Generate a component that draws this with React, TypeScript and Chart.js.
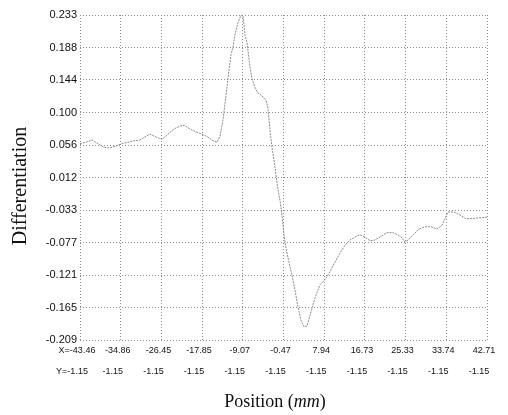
import { useEffect, useRef } from 'react';
import { Chart, registerables } from 'chart.js';

Chart.register(...registerables);

const positions = [
  -43.46, -42.19, -40.92, -39.65, -38.38, -37.11, -35.84, -34.57, -33.3, -32.03,
  -30.76, -29.49, -28.64, -27.37, -26.1, -24.83, -23.56, -22.29, -21.44, -20.17,
  -18.9, -17.63, -16.36, -15.3, -14.46, -13.82, -13.19, -12.55, -11.92, -11.49,
  -11.07, -10.65, -10.01, -9.38, -8.95, -8.53, -8.11, -7.47, -7.05, -6.41,
  -5.78, -4.93, -4.08, -3.66, -3.24, -2.81, -2.18, -1.54, -1.12, -0.7,
  -0.27, 0.15, 0.78, 1.42, 2.06, 2.69, 3.33, 3.96, 4.6, 5.23,
  5.86, 6.5, 7.35, 8.41, 9.47, 10.53, 11.58, 12.64, 13.7, 14.76,
  15.82, 16.87, 17.93, 18.99, 20.26, 21.53, 22.8, 23.86, 24.71, 25.34,
  25.98, 27.04, 28.31, 29.58, 30.85, 32.12, 33.18, 33.81, 34.45, 35.72,
  36.99, 38.26, 39.53, 40.8, 42.71,
];

const differentiation = [
  0.058, 0.06, 0.063, 0.058, 0.053, 0.052, 0.055, 0.058, 0.06, 0.062,
  0.063, 0.068, 0.071, 0.067, 0.064, 0.071, 0.078, 0.082, 0.083, 0.078,
  0.074, 0.071, 0.067, 0.062, 0.06, 0.068, 0.09, 0.124, 0.158, 0.179,
  0.189, 0.206, 0.223, 0.233, 0.232, 0.206, 0.196, 0.162, 0.147, 0.134,
  0.127, 0.123, 0.117, 0.106, 0.077, 0.053, 0.026, -0.005, -0.019, -0.039,
  -0.066, -0.084, -0.103, -0.121, -0.141, -0.164, -0.182, -0.191, -0.19, -0.176,
  -0.161, -0.148, -0.134, -0.127, -0.116, -0.103, -0.091, -0.08, -0.073, -0.069,
  -0.066, -0.069, -0.074, -0.073, -0.068, -0.063, -0.063, -0.066, -0.07, -0.076,
  -0.073, -0.066, -0.058, -0.055, -0.055, -0.058, -0.053, -0.044, -0.035, -0.035,
  -0.039, -0.044, -0.044, -0.043, -0.042,
];

const xTickLabels = ['X=-43.46', '-34.86', '-26.45', '-17.85', '-9.07', '-0.47', '7.94', '16.73', '25.33', '33.74', '42.71'];
const yRowLabels = ['Y=-1.15', '-1.15', '-1.15', '-1.15', '-1.15', '-1.15', '-1.15', '-1.15', '-1.15', '-1.15', '-1.15'];
const yTickLabels = ['-0.209', '-0.165', '-0.121', '-0.077', '-0.033', '0.012', '0.056', '0.100', '0.144', '0.188', '0.233'];

const xMin = -43.46;
const xMax = 42.71;
const yMin = -0.209;
const yMax = 0.233;

const yTitle = 'Differentiation';
const xTitleParts = [
  { text: 'Position (', italic: false },
  { text: 'mm', italic: true },
  { text: ')', italic: false },
];

const titlePlugin = {
  id: 'customTitles',
  afterDraw(chart: any) {
    const ctx = chart.ctx;
    ctx.save();
    ctx.fillStyle = '#111';
    ctx.save();
    ctx.translate(21, 186);
    ctx.rotate(-Math.PI / 2);
    ctx.font = '20px "Liberation Serif", "Times New Roman", serif';
    ctx.textAlign = 'center';
    ctx.textBaseline = 'middle';
    ctx.fillText(yTitle, 0, 0);
    ctx.restore();
    const size = 18;
    const fonts = xTitleParts.map((p) =>
      (p.italic ? 'italic ' : '') + size + 'px "Liberation Serif", "Times New Roman", serif'
    );
    let total = 0;
    const widths = xTitleParts.map((p, i) => {
      ctx.font = fonts[i];
      const w = ctx.measureText(p.text).width;
      total += w;
      return w;
    });
    let x = 275 - total / 2;
    ctx.textAlign = 'left';
    ctx.textBaseline = 'alphabetic';
    xTitleParts.forEach((p, i) => {
      ctx.font = fonts[i];
      ctx.fillText(p.text, x, 407);
      x += widths[i];
    });
    ctx.restore();
  },
};

const evenTicks = (labels: string[], min: number, max: number) => (scale: any) => {
  scale.ticks = labels.map((_, i) => ({ value: min + (i * (max - min)) / (labels.length - 1) }));
};

const tickFont = { size: 9, family: '"Liberation Sans", Arial, sans-serif' };

export default function App() {
  const canvasRef = useRef<HTMLCanvasElement | null>(null);

  useEffect(() => {
    if (!canvasRef.current) return;
    const gridColor = '#8c8c8c';
    const chart = new Chart(canvasRef.current, {
      type: 'line',
      data: {
        datasets: [
          {
            data: positions.map((x, i) => ({ x, y: differentiation[i] })),
            borderColor: '#8a8a8a',
            borderWidth: 1,
            borderDash: [2, 1],
            pointRadius: 0,
            tension: 0,
            fill: false,
            xAxisID: 'x',
            yAxisID: 'y',
          },
        ],
      },
      options: {
        animation: false,
        responsive: false,
        maintainAspectRatio: false,
        layout: { padding: { left: 0, right: 21, top: 15, bottom: 0 } },
        plugins: {
          legend: { display: false },
          tooltip: { enabled: false },
        },
        scales: {
          x: {
            type: 'linear',
            position: 'bottom',
            min: xMin,
            max: xMax,
            afterBuildTicks: evenTicks(xTickLabels, xMin, xMax),
            afterFit: (scale: any) => {
              scale.height = 21;
            },
            ticks: {
              autoSkip: false,
              maxRotation: 0,
              minRotation: 0,
              padding: 5,
              labelOffset: -3,
              color: '#111',
              font: tickFont,
              callback: (_v: any, index: number) => xTickLabels[index],
            },
            grid: { color: gridColor, lineWidth: 1, drawTicks: false },
            border: { display: false, dash: [1, 2] },
          },
          x2: {
            type: 'linear',
            position: 'bottom',
            min: xMin,
            max: xMax,
            afterBuildTicks: evenTicks(yRowLabels, xMin, xMax),
            afterFit: (scale: any) => {
              scale.height = 54;
            },
            ticks: {
              autoSkip: false,
              maxRotation: 0,
              minRotation: 0,
              padding: 5,
              labelOffset: -8,
              color: '#111',
              font: tickFont,
              callback: (_v: any, index: number) => yRowLabels[index],
            },
            grid: { display: false, drawTicks: false },
            border: { display: false },
          },
          y: {
            type: 'linear',
            min: yMin,
            max: yMax,
            afterBuildTicks: evenTicks(yTickLabels, yMin, yMax),
            afterFit: (scale: any) => {
              scale.width = 80;
            },
            ticks: {
              autoSkip: false,
              padding: 3,
              color: '#111',
              font: { size: 11, family: '"Liberation Sans", Arial, sans-serif' },
              callback: (_v: any, index: number) => yTickLabels[index],
            },
            grid: { color: gridColor, lineWidth: 1, drawTicks: false },
            border: { display: false, dash: [1, 2] },
          },
        },
      },
      plugins: [titlePlugin],
    } as any);
    return () => chart.destroy();
  }, []);

  return (
    <div style={{ position: 'fixed', left: 0, top: 0, width: 508, height: 415, background: '#fff' }}>
      <canvas ref={canvasRef} width={508} height={415} style={{ width: 508, height: 415 }} />
    </div>
  );
}
